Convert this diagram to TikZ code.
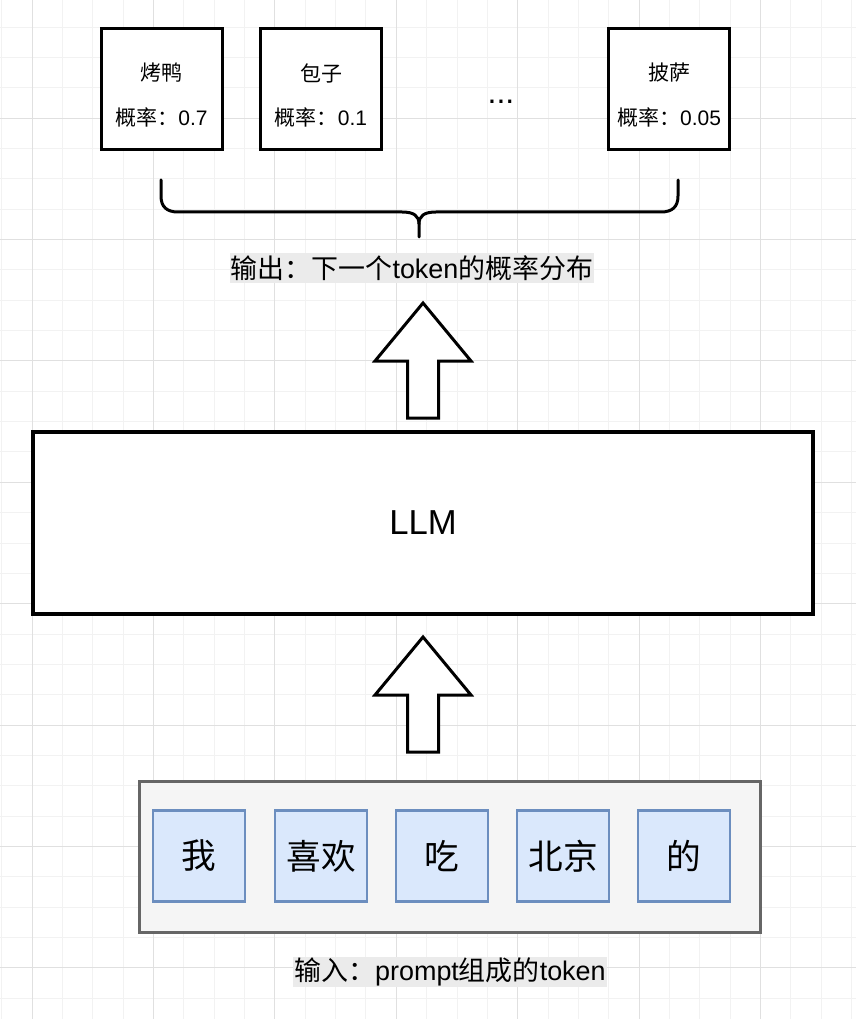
\documentclass[tikz,border=0pt]{standalone}
\usepackage{xcolor}
\usepackage{fontspec}
\setmainfont{Liberation Sans}
\newfontfamily\cjk{Noto Sans CJK SC}
\usepackage{tikz}

\definecolor{gridminor}{HTML}{F2F2F2}
\definecolor{gridmajor}{HTML}{E0E0E0}
\definecolor{tokenfill}{HTML}{DAE8FC}
\definecolor{tokenline}{HTML}{6C8EBF}
\definecolor{inputfill}{HTML}{F5F5F5}
\definecolor{inputline}{HTML}{666666}
\definecolor{labelfill}{HTML}{EBEBEB}

\tikzset{
  probbox/.style={draw=black,line width=2.25pt,fill=white,minimum width=90.75pt,minimum height=90.75pt,inner sep=0pt},
  probtext/.style={inner sep=0pt,font=\fontsize{15.75}{19}\selectfont},
  tokenbox/.style={draw=tokenline,line width=1.8pt,fill=tokenfill,minimum width=69pt,minimum height=68pt,inner sep=0pt,font=\fontsize{26}{30}\selectfont\cjk},
  caption/.style={fill=labelfill,inner xsep=1pt,inner ysep=0pt,minimum height=22.5pt,font=\fontsize{20.2}{24}\selectfont},
  blockarrow/.style={draw=black,line width=2.25pt,fill=white,line join=miter},
  bracket/.style={draw=black,line width=2.25pt,line cap=round},
  pics/uparrow/.style={code={
    \draw[blockarrow] (0,0) -- (48,58) -- (15.5,58) -- (15.5,115) -- (-15.5,115) -- (-15.5,58) -- (-48,58) -- cycle;
  }}
}

\begin{document}
\begin{tikzpicture}[x=0.75pt,y=-0.75pt]
        \useasboundingbox (0,0) rectangle (856,1019);
        \fill[white] (0,0) rectangle (856,1019);
        % background grid
        \foreach \i in {-1,...,27} \draw[gridminor,line width=0.6pt] ({32+30.35*\i},0) -- ({32+30.35*\i},1019);
        \foreach \j in {-3,...,29} \draw[gridminor,line width=0.6pt] (0,{118+30.35*\j}) -- (856,{118+30.35*\j});
        \foreach \i in {0,4,...,24} \draw[gridmajor,line width=0.6pt] ({32+30.35*\i},0) -- ({32+30.35*\i},1019);
        \foreach \j in {0,4,...,28} \draw[gridmajor,line width=0.6pt] (0,{118+30.35*\j}) -- (856,{118+30.35*\j});

        % output distribution
        \node[probbox] (duck) at (161.5,89.5) {};
        \node[probtext] (duck-name) at (161.5,73) {\cjk 烤鸭};
        \node[probtext] (duck-prob) at (161.5,117) {{\cjk 概率：}0.7};
        \node[probbox] (bun) at (321,89.5) {};
        \node[probtext] (bun-name) at (321,73) {\cjk 包子};
        \node[probtext] (bun-prob) at (321,117) {{\cjk 概率：}0.1};
        \node[font=\fontsize{24}{28}\selectfont,inner sep=0pt] (more) at (501,102) {...};
        \node[probbox] (pizza) at (669,89.5) {};
        \node[probtext] (pizza-name) at (669,73) {\cjk 披萨};
        \node[probtext] (pizza-prob) at (669,117) {{\cjk 概率：}0.05};

        \draw[bracket] (161,180) -- (161,196) .. controls (161,207) and (167,212) .. (178,212)
            -- (402,212) .. controls (414,212) and (419,216) .. (419,224) -- (419,237);
        \draw[bracket] (419,224) .. controls (419,216) and (424,212) .. (436,212)
            -- (661,212) .. controls (672,212) and (678,207) .. (678,196) -- (678,180);
        \node[caption] (outlabel) at (412,268) {{\cjk 输出：下一个}token{\cjk 的概率分布}};

        \pic (outarrow) at (423,303) {uparrow};

        % model
        \node[draw=black,line width=2.6pt,fill=white,minimum width=585pt,minimum height=136.5pt,font=\fontsize{26}{30}\selectfont] (llm) at (423,523) {LLM};

        \pic (inarrow) at (423,637) {uparrow};

        % prompt tokens
        \node[draw=inputline,fill=inputfill,line width=2.25pt,minimum width=465.75pt,minimum height=113.25pt] (prompt) at (449.5,856.5) {};
        \node[tokenbox] (wo) at (199,856) {我};
        \node[tokenbox] (xihuan) at (321,856) {喜欢};
        \node[tokenbox] (chi) at (442,856) {吃};
        \node[tokenbox] (beijing) at (563,856) {北京};
        \node[tokenbox] (de) at (684,856) {的};
        \node[caption] (inlabel) at (450,972) {{\cjk 输入：}prompt{\cjk 组成的}token};
\end{tikzpicture}
\end{document}
